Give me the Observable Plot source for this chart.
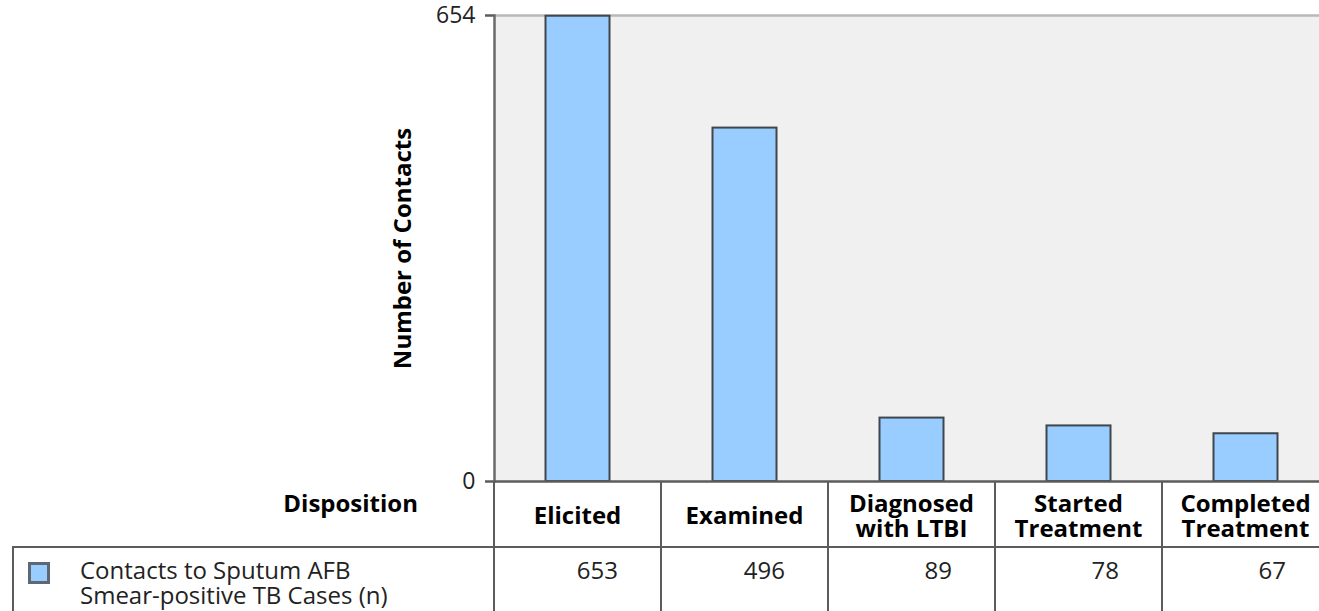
<!DOCTYPE html>
<html>
<head>
<meta charset="utf-8">
<script src="https://cdn.jsdelivr.net/npm/d3@7"></script>
<script src="https://cdn.jsdelivr.net/npm/@observablehq/plot@0.6"></script>
<style>
  html, body { margin: 0; padding: 0; background: #fff; overflow: hidden; width: 1319px; height: 611px; }
  #wrap { position: relative; width: 1329px; height: 611px; font-family: "Open Sans", sans-serif; }
  #wrap svg { position: absolute; left: 0; top: 0; overflow: visible; }
  .ln { position: absolute; background: #5c5c5c; }
  .hd { position: absolute; font-weight: bold; font-size: 24px; color: #000; text-align: center; line-height: 25px; white-space: pre; }
  .val { position: absolute; font-size: 24px; color: #222; text-align: right; line-height: 25px; }
</style>
</head>
<body>
<div id="wrap"></div>
<script>
const categories = ["Elicited", "Examined", "Diagnosed\nwith LTBI", "Started\nTreatment", "Completed\nTreatment"];
const values = [653, 496, 89, 78, 67];
const yTicks = [0, 654];
const seriesName = "Contacts to Sputum AFB\nSmear-positive TB Cases (n)";
const rowHeader = "Disposition";
const yLabel = "Number of Contacts";

const data = categories.map((c, i) => ({category: c, value: values[i]}));

const W = 1329, H = 482;
const plot = Plot.plot({
  width: W,
  height: H,
  marginLeft: 494,
  marginRight: 0,
  marginTop: 15,
  marginBottom: 1,
  style: {fontFamily: "Open Sans, sans-serif", background: "transparent", overflow: "visible"},
  x: {domain: categories, padding: 0, axis: null},
  y: {domain: [0, 654], axis: null},
  marks: [
    Plot.frame({fill: "#f0f0f0", stroke: null}),
    Plot.ruleY([654], {stroke: "#b8b8b8", strokeWidth: 2.5}),
    Plot.barY(data, {x: "category", y: "value", fill: "#99ccff", stroke: "#3f464d", strokeWidth: 2, insetLeft: 51.5, insetRight: 51.5}),
    Plot.axisY({ticks: yTicks, tickSize: 9, tickFormat: d3.format("d"), label: null, fontSize: 23, stroke: "#5c5c5c", strokeWidth: 2.5, tickPadding: 10, color: "#222"}),
    Plot.frame({anchor: "left", stroke: "#6a6a6a", strokeWidth: 2.5}),
    Plot.ruleY([0], {stroke: "#5c5c5c", strokeWidth: 2.5}),
    Plot.text([yLabel], {frameAnchor: "left", textAnchor: "middle", rotate: -90, dx: -91, fontSize: 24, fontWeight: "bold", fill: "#000"})
  ]
});
const wrap = document.getElementById("wrap");
wrap.appendChild(plot);

// Data table below the chart, aligned to the x band scale
const xs = plot.scale("x");
const bw = xs.bandwidth;
const top0 = 481, rowLine = 547, bottom = 611;
function line(x, y, w, h) {
  const d = document.createElement("div");
  d.className = "ln";
  Object.assign(d.style, {left: x + "px", top: y + "px", width: w + "px", height: h + "px"});
  wrap.appendChild(d);
}
categories.forEach((c, i) => {
  const x0 = xs.apply(c);
  line(x0 - 1, top0, 2, bottom - top0);
  const h = document.createElement("div");
  h.className = "hd";
  h.textContent = c;
  const lines = c.split("\n").length;
  Object.assign(h.style, {left: x0 + "px", width: bw + "px", top: (lines === 1 ? 502 : 490) + "px"});
  wrap.appendChild(h);
  const v = document.createElement("div");
  v.className = "val";
  v.textContent = values[i];
  Object.assign(v.style, {left: x0 + "px", width: (bw - 43) + "px", top: "557px"});
  wrap.appendChild(v);
});
line(12, rowLine - 1, W - 12, 2);
line(12, rowLine, 2, bottom - rowLine);

const rh = document.createElement("div");
rh.className = "hd";
rh.textContent = rowHeader;
Object.assign(rh.style, {left: "150px", width: "268px", textAlign: "right", top: "490px"});
wrap.appendChild(rh);

// legend swatch + series name
const sw = document.createElement("div");
Object.assign(sw.style, {position: "absolute", left: "28px", top: "562px", width: "16px", height: "16px", background: "#99ccff", border: "3px solid #5e6874"});
wrap.appendChild(sw);
const sn = document.createElement("div");
sn.textContent = seriesName;
Object.assign(sn.style, {position: "absolute", left: "80px", top: "557px", fontSize: "24px", lineHeight: "25px", color: "#222", whiteSpace: "pre"});
wrap.appendChild(sn);
</script>
</body>
</html>
